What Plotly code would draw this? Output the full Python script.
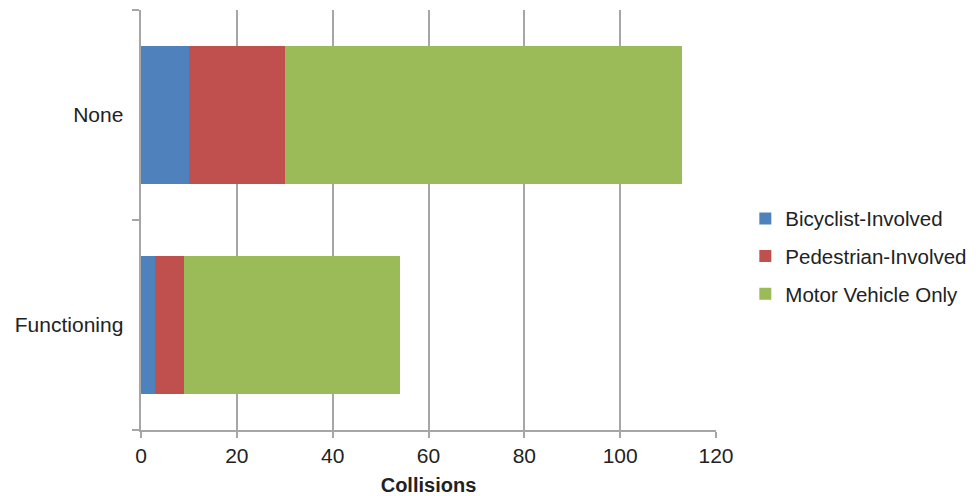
import plotly.graph_objects as go

categories = ["Functioning", "None"]
bicyclist = [3, 10]
pedestrian = [6, 20]
motor_vehicle = [45, 83]
series_names = ["Bicyclist-Involved", "Pedestrian-Involved", "Motor Vehicle Only"]
colors = ["#4F81BD", "#C0504D", "#9BBB59"]
x_ticks = [0, 20, 40, 60, 80, 100, 120]

fig = go.Figure()
for i, (name, vals, col) in enumerate(zip(series_names, [bicyclist, pedestrian, motor_vehicle], colors)):
    fig.add_trace(go.Bar(
        y=categories, x=vals, name=name, orientation="h",
        legendgroup=f"g{i}",
        marker=dict(color=col, line=dict(width=0)),
    ))

fig.update_layout(
    barmode="stack",
    bargap=0.34,
    width=968, height=488,
    plot_bgcolor="white", paper_bgcolor="white",
    margin=dict(l=133, r=260, t=2, b=66),
    font=dict(family="Liberation Sans, Arial, sans-serif", size=21, color="#222222"),
    legend=dict(
        x=1.051, y=0.414, xanchor="left", yanchor="middle",
        traceorder="grouped", font=dict(size=20.5, color="#222222"),
        itemwidth=30, tracegroupgap=8,
    ),
    xaxis=dict(
        range=[0, 120], tickvals=x_ticks, showgrid=True,
        gridcolor="#A6A6A6", gridwidth=1.5,
        showline=True, linecolor="#A6A6A6", linewidth=1.5,
        ticks="outside", ticklen=6, tickcolor="#A6A6A6", tickwidth=1.5,
        zeroline=False,
        title=dict(text="<b>Collisions</b>", font=dict(size=20, color="#222222"), standoff=12),
    ),
    yaxis=dict(
        categoryorder="array", categoryarray=categories,
        showline=True, linecolor="#A6A6A6", linewidth=1.5,
        ticks="outside", ticklen=7, tickcolor="#A6A6A6", tickwidth=1.5,
        tickson="boundaries", showgrid=False, ticksuffix="  ",
    ),
)

fig.write_html("out.html")
